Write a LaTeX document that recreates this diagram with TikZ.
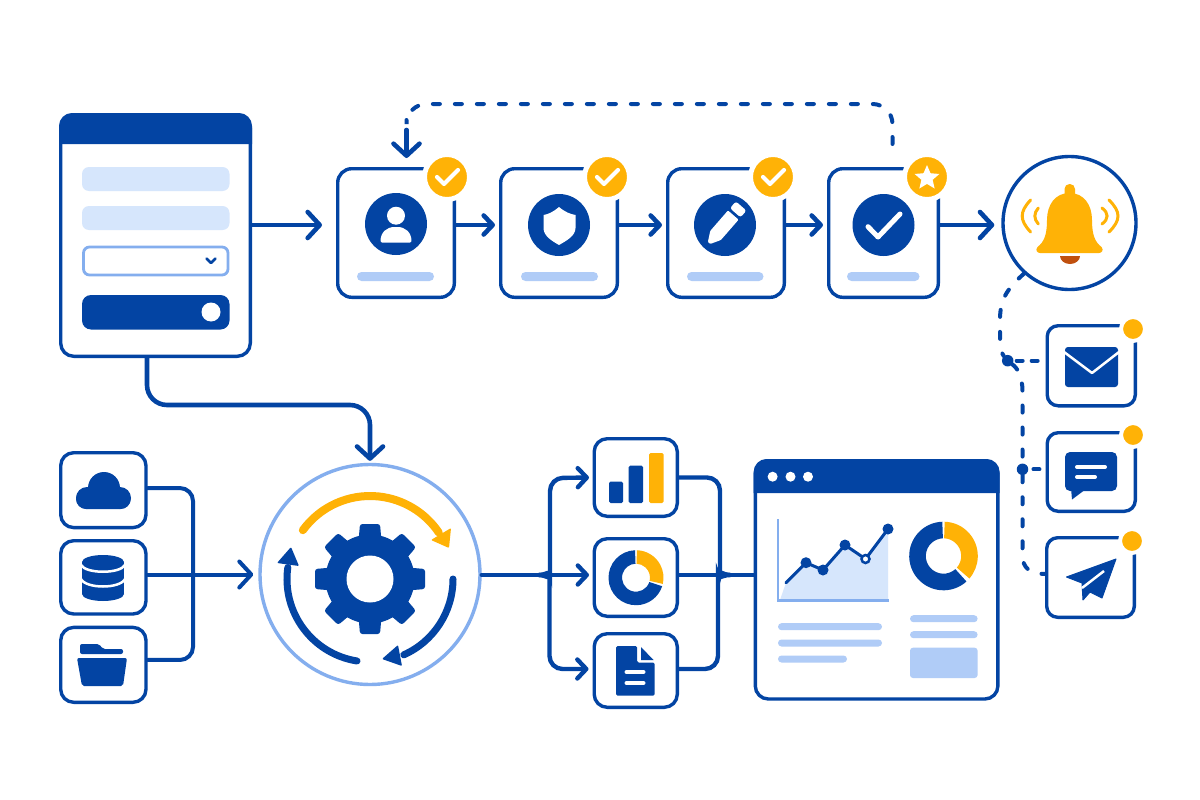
\documentclass[tikz,border=0pt]{standalone}
\usetikzlibrary{arrows.meta,calc,shapes.geometric}
\definecolor{bl}{HTML}{0344A3}
\definecolor{yel}{HTML}{FFB206}
\definecolor{pale}{HTML}{D6E6FC}
\definecolor{midb}{HTML}{B0CCF7}
\definecolor{ringb}{HTML}{84AEEE}
\definecolor{clap}{HTML}{C0500F}
\tikzset{
  cardbox/.style={draw=bl,line width=3.4pt,fill=white,rounded corners=14pt,inner sep=0pt},
  smallbox/.style={draw=bl,line width=3.4pt,fill=white,rounded corners=13pt,inner sep=0pt},
  iconcirc/.style={circle,fill=bl,inner sep=0pt,minimum size=62pt},
  badgec/.style={circle,fill=yel,draw=white,line width=5pt,inner sep=0pt,minimum size=45pt},
  notedot/.style={circle,fill=yel,draw=white,line width=4pt,inner sep=0pt,minimum size=24pt},
  hubdot/.style={circle,fill=bl,inner sep=0pt,minimum size=11.5pt},
  flowL/.style={draw=bl,line width=4.6pt,line cap=round,-{Straight Barb[length=12pt,width=26pt,round]}},
  flowS/.style={draw=bl,line width=4.6pt,line cap=round,-{Straight Barb[length=9pt,width=19pt,round]}},
  wire/.style={draw=bl,line width=4pt,line cap=round},
  dashy/.style={draw=bl,line width=4pt,line cap=round,dash pattern=on 7pt off 15pt},
  dashshort/.style={draw=bl,line width=4pt,line cap=round,dash pattern=on 6pt off 9pt},
  whitestroke/.style={draw=white,line cap=round,line join=round},
  barfill/.style={fill=midb,rounded corners=3.5pt},
  lineb/.style={draw=bl,line cap=round,line join=round},
}
\newcommand{\boxnode}[6]{\node[#2,minimum width={(#5)-(#3)-3.4},minimum height={(#6)-(#4)-3.4}] (#1) at ({((#3)+(#5))/2},{-((#4)+(#6))/2}) {};}
\newcommand{\annul}[7]{\fill[#7] ([shift={(#5:#3pt)}]#1,#2) arc[start angle=#5,end angle=#6,radius=#3pt] -- ([shift={(#6:#4pt)}]#1,#2) arc[start angle=#6,end angle=#5,radius=#4pt] -- cycle;}
\begin{document}
\begin{tikzpicture}[x=1pt,y=1pt]
\useasboundingbox (0,0) rectangle (1200,-800);
\fill[white] (0,0) rectangle (1200,-800);

% form panel
\boxnode{form}{cardbox,rounded corners=13pt}{59}{113}{252}{358}
\fill[bl] (59,-144) [rounded corners=13pt] -- (59,-113) -- (252,-113) [sharp corners] -- (252,-144) -- cycle;
\fill[pale,rounded corners=7pt] (82,-167) rectangle (229.5,-191);
\fill[pale,rounded corners=7pt] (82,-206) rectangle (229.5,-230);
\draw[ringb,line width=2.8pt,rounded corners=6pt] (83.5,-247) rectangle (228,-275);
\draw[lineb,line width=2.8pt] (206.5,-258.5) -- (211,-263) -- (215.5,-258.5);
\fill[bl,rounded corners=9pt] (82,-295) rectangle (229.5,-329.5);
\fill[white] (211,-312) circle[radius=9.5pt];

% step cards
\boxnode{s1}{cardbox}{336}{167}{456}{299}
\boxnode{s2}{cardbox}{499}{167}{619}{299}
\boxnode{s3}{cardbox}{666}{167}{786}{299}
\boxnode{s4}{cardbox}{827}{167}{940}{299}
\node[badgec] (b1) at (447,-177) {};
\node[badgec] (b2) at (607,-177) {};
\node[badgec] (b3) at (773,-177) {};
\node[badgec] (b4) at (927,-177) {};
\foreach \c in {447,607,773}{
  \draw[whitestroke,line width=4.2pt] (\c-10,-177) -- (\c-3,-184) -- (\c+11,-170);
}
\node[star,star points=5,star point ratio=2.2,fill=white,minimum size=26pt,inner sep=0pt] (b4s) at (927,-178) {};
\node[iconcirc] (i1) at (396,-224) {};
\node[iconcirc] (i2) at (559,-225) {};
\node[iconcirc] (i3) at (725,-225) {};
\node[iconcirc] (i4) at (883.5,-225) {};
\fill[midb,rounded corners=4.5pt] (357,-272) rectangle (434,-281);
\fill[midb,rounded corners=4.5pt] (521,-272) rectangle (598,-281);
\fill[midb,rounded corners=4.5pt] (687,-272) rectangle (763.5,-281);
\fill[midb,rounded corners=4.5pt] (847,-272) rectangle (919.5,-281);
% person
\fill[white] (396,-215.7) circle[radius=9pt];
\fill[white,rounded corners=1.5pt] (380.5,-242.7) .. controls (380.5,-232) and (387,-227) .. (396,-227) .. controls (405,-227) and (411.5,-232) .. (411.5,-242.7) -- cycle;
% shield
\fill[white] (559,-207) .. controls (553,-212) and (549,-214) .. (543.5,-215) -- (543.5,-228) .. controls (543.5,-236) and (552,-241) .. (559,-245) .. controls (566,-241) and (575.5,-236) .. (575.5,-228) -- (575.5,-215) .. controls (570,-214) and (565,-212) .. (559,-207) -- cycle;
% pencil
\begin{scope}[shift={(709,-243)},rotate=49]
\fill[white,rounded corners=1pt] (0,1.5) -- (10,7) -- (37,7) -- (37,-7) -- (10,-7) -- (0,-1.5) -- cycle;
\fill[white,rounded corners=2.5pt] (40,7) -- (49,7) -- (49,-7) -- (40,-7) -- cycle;
\end{scope}
% check
\draw[whitestroke,line width=5pt] (868,-226.7) -- (878,-237) -- (900,-214);

% top arrows
\coordinate (rowA) at (0,-225);
\draw[flowL,shorten >=14pt] (form.east |- rowA) -- (s1.west |- rowA);
\draw[flowS,shorten >=4pt] (s1.east |- rowA) -- (s2.west |- rowA);
\draw[flowS,shorten >=4pt] (s2.east |- rowA) -- (s3.west |- rowA);
\draw[flowS,shorten >=4pt] (s3.east |- rowA) -- (s4.west |- rowA);

% dashed feedback
\coordinate (loopStart) at (892.5,-144);
\coordinate (loopEnd) at (406.5,-120);
\coordinate (loopArrow) at (406.5,-130);
\draw[dashy,rounded corners=20pt] (loopStart) -- (892.5,-104) -- (406.5,-104) -- (loopEnd);
\draw[flowL,shorten >=9pt] (loopArrow) -- (loopArrow |- s1.north);

% bell
\node[circle,draw=bl,line width=3.4pt,fill=white,inner sep=0pt,minimum size=133pt] (bell) at (1069.5,-223) {};
\draw[flowL,shorten >=7pt] (s4.east |- rowA) -- (bell.west |- rowA);
\fill[yel,rounded corners=5pt] (1064.5,-184) rectangle (1075,-202);
\fill[yel] (1069.5,-193) .. controls (1084,-193) and (1092,-205) .. (1092,-220) .. controls (1092,-235) and (1095,-242) .. (1101.5,-247) .. controls (1104,-250) and (1102,-253) .. (1099,-253) -- (1040,-253) .. controls (1037,-253) and (1035,-250) .. (1037.5,-247) .. controls (1044,-242) and (1047,-235) .. (1047,-220) .. controls (1047,-205) and (1055,-193) .. (1069.5,-193) -- cycle;
\fill[clap] (1060,-256) arc[start angle=180,end angle=360,x radius=10pt,y radius=8pt] -- cycle;
\draw[yel,line width=3pt,line cap=round] (1030.6,-200) .. controls (1019.4,-212) and (1019.4,-220) .. (1030.6,-232);
\draw[yel,line width=3pt,line cap=round] (1038.3,-208) .. controls (1033.7,-213) and (1033.7,-219) .. (1038.3,-224);
\draw[yel,line width=3pt,line cap=round] (1109,-200) .. controls (1121,-212) and (1121,-220) .. (1109,-232);
\draw[yel,line width=3pt,line cap=round] (1102,-208) .. controls (1108.8,-213) and (1108.8,-219) .. (1102,-224);

% notification cards
\boxnode{n1}{cardbox,rounded corners=11pt}{1045.5}{324}{1137}{407.5}
\boxnode{n2}{cardbox,rounded corners=11pt}{1045.5}{431}{1137}{513}
\boxnode{n3}{cardbox,rounded corners=11pt}{1045}{536}{1136}{619}
\node[notedot] (d1n) at (1133,-329) {};
\node[notedot] (d2n) at (1133,-435) {};
\node[notedot] (d3n) at (1132,-541) {};
% envelope
\fill[bl,rounded corners=3pt] (1065,-347) rectangle (1118,-387);
\draw[whitestroke,line width=2.5pt] (1064,-352) -- (1092,-373) -- (1119,-352);
% chat
\fill[bl,rounded corners=5pt] (1065,-452) rectangle (1117,-491);
\fill[bl] (1071,-488) -- (1072,-499.5) -- (1086,-489) -- cycle;
\draw[whitestroke,line width=4pt] (1077,-467) -- (1105,-467);
\draw[whitestroke,line width=4pt] (1077,-477) -- (1095,-477);
% plane
\fill[bl,line join=round,draw=bl,line width=1pt] (1116,-559) -- (1066.5,-577) -- (1082,-583) -- (1083,-600) -- (1090,-592) -- (1102,-598) -- cycle;
\draw[white,line width=2.5pt] (1104,-571) -- (1082,-588);

% dashed notification tree
\node[hubdot] (hub1) at (1007.7,-360.7) {};
\node[hubdot] (hub2) at (1022.5,-469.3) {};
\coordinate (tail) at (0,-574);
\draw[dashy] (bell.228) .. controls (1006,-290) and (1000,-300) .. (1000,-320) -- (1000,-338) .. controls (1000,-348) and (1002,-354) .. (hub1);
\draw[dashshort,shorten <=3pt,shorten >=7pt] (hub1) -- (n1.west |- hub1);
\draw[dashy] (hub1) .. controls (1017,-368) and (1022.5,-375) .. (1022.5,-392) -- (hub2);
\draw[dashshort,shorten <=5pt,shorten >=5pt] (hub2) -- (n2.west |- hub2);
\draw[dashy] (hub2) -- (1022.5,-555) .. controls (1022.5,-568) and (1030,-574) .. (n3.west |- tail);

% source cards
\boxnode{c1}{smallbox}{59}{451}{147.7}{529.3}
\boxnode{c2}{smallbox}{59}{539}{147.7}{615.7}
\boxnode{c3}{smallbox}{59}{625.7}{147.7}{704}
% cloud
\fill[bl,rounded corners=10pt] (76,-489) rectangle (130.7,-509);
\fill[bl] (104,-488) circle[radius=16pt];
\fill[bl] (87,-498) circle[radius=11pt];
\fill[bl] (120,-498) circle[radius=11pt];
% database
\fill[bl] (82,-562) rectangle (124,-594);
\fill[bl] (103,-562) ellipse[x radius=21pt,y radius=7pt];
\fill[bl] (103,-594) ellipse[x radius=21pt,y radius=7pt];
\draw[white,line width=2.5pt] (81,-565) .. controls (86,-574) and (120,-574) .. (125,-565);
\draw[white,line width=2.5pt] (81,-579) .. controls (86,-589) and (120,-589) .. (125,-579);
% folder
\fill[bl,rounded corners=2pt] (80,-654) -- (80,-644) -- (99,-644) -- (103,-649) -- (123,-649) -- (123,-654) -- cycle;
\fill[bl,rounded corners=2pt] (77,-658) -- (127,-658) -- (123,-686) -- (82,-686) -- cycle;
% source wiring
\node[circle,draw=ringb,line width=3.4pt,fill=white,inner sep=0pt,minimum size=220pt] (proc) at (370,-574.5) {};
\draw[wire,rounded corners=13pt] ($(c1.east)+(0,2)$) -- (193,-488) -- (193,-660) -- ($(c3.east)+(0,5)$);
\draw[flowL,line width=4pt,shorten >=5pt] (c2.east |- proc.west) -- (proc.west);
% gear
\foreach \a in {0,45,...,315}{
  \fill[bl,rotate around={\a:(370,-579)},rounded corners=2.5pt] (356,-570) -- (360,-524) -- (380,-524) -- (384,-570) -- cycle;
}
\fill[bl] (370,-579) circle[radius=44.5pt];
\fill[white] (370,-579) circle[radius=23.5pt];
% cycle arcs
\draw[yel,line width=8pt,line cap=round] ([shift={(144:83pt)}]370,-579) arc[start angle=144,end angle=34,radius=83pt];
\fill[yel,rounded corners=1pt] (449,-548) -- (431,-540) -- (451,-528) -- cycle;
\draw[bl,line width=7pt,line cap=round] ([shift={(0:83pt)}]370,-579) arc[start angle=0,end angle=-66,radius=83pt];
\fill[bl,rounded corners=1pt] (382,-659) -- (398,-645) -- (402,-666) -- cycle;
\draw[bl,line width=7pt,line cap=round] ([shift={(261:83pt)}]370,-579) arc[start angle=261,end angle=172,radius=83pt];
\fill[bl,rounded corners=1pt] (291,-547) -- (277,-563) -- (299,-566) -- cycle;
% form to process
\draw[flowL,rounded corners=20pt,shorten >=2pt] ($(form.south)+(-8.5,0)$) -- (147,-405) -- (370,-405) -- (proc.north);

% data cards
\boxnode{d1}{smallbox}{592.5}{437}{679}{518}
\boxnode{d2}{smallbox}{592.5}{537}{679}{618}
\boxnode{d3}{smallbox}{592.5}{632}{679}{709}
\fill[bl,rounded corners=1.5pt] (609,-481.7) rectangle (623,-503);
\fill[bl,rounded corners=1.5pt] (628.6,-465.7) rectangle (643,-503);
\fill[yel,rounded corners=1.5pt] (649,-453) rectangle (663.5,-503);
\annul{636}{-577.7}{27.5}{14}{92}{342}{bl}
\annul{636}{-577.7}{27.5}{14}{88}{-13}{yel}
\fill[bl,rounded corners=1.5pt] (616,-646) -- (637,-646) -- (637,-662.5) -- (654.6,-662.5) -- (654.6,-695.7) -- (616,-695.7) -- cycle;
\fill[bl] (641,-647) -- (641,-660) -- (653.5,-660) -- cycle;
\draw[whitestroke,line width=4pt] (626.5,-672) -- (643.5,-672);
\draw[whitestroke,line width=4pt] (626.5,-683) -- (643.5,-683);

% dashboard
\boxnode{dash}{cardbox,rounded corners=13pt}{753.6}{459}{999.6}{700.7}
\fill[bl] (753.6,-493) [rounded corners=13pt] -- (753.6,-459) -- (999.6,-459) [sharp corners] -- (999.6,-493) -- cycle;
\fill[white] (772.6,-476.7) circle[radius=5pt];
\fill[white] (790.5,-476.7) circle[radius=5pt];
\fill[white] (808,-476.7) circle[radius=5pt];
\fill[pale] (780,-600) -- (786,-582.7) -- (806,-562.7) -- (823,-570) -- (845,-545) -- (865.5,-559) -- (888,-529) -- (888,-600) -- cycle;
\draw[ringb,line width=2.5pt] (778,-519) -- (778,-600.5) -- (889,-600.5);
\draw[lineb,line width=3pt] (786,-582.7) -- (806,-562.7) -- (823,-570) -- (845,-545) -- (865.5,-559) -- (888,-529);
\fill[bl] (806,-562.7) circle[radius=5.5pt];
\fill[bl] (823,-570) circle[radius=5.5pt];
\fill[bl] (845,-545) circle[radius=5.5pt];
\fill[bl] (888,-529) circle[radius=5.5pt];
\draw[bl,fill=white,line width=2.5pt] (865.5,-559) circle[radius=4pt];
\annul{943.5}{-556}{34.3}{17.7}{92}{312}{bl}
\annul{943.5}{-556}{34.3}{17.7}{88}{-41}{yel}
\fill[barfill] (778,-623.2) rectangle (882,-630.2);
\fill[barfill] (778,-639.5) rectangle (882,-646.5);
\fill[barfill] (778,-655.5) rectangle (847,-662.5);
\fill[barfill] (910,-615.2) rectangle (977.6,-622.2);
\fill[barfill] (910,-631.2) rectangle (977.6,-638.2);
\fill[midb,rounded corners=3pt] (910,-647.7) rectangle (977.6,-678);

% analytics wiring
\coordinate (splitL) at (539,-575);
\coordinate (splitR) at (730,-575);
\draw[wire,line width=4.4pt] (proc.east |- splitL) -- (splitL);
\draw[flowS,line width=4.4pt,shorten >=3.5pt] (splitL) -- (d2.west |- splitL);
\draw[flowS,line width=4.4pt,shorten >=3.5pt,rounded corners=13pt] (splitL) .. controls (546,-575) and (550,-570) .. (550,-562) -- (550,-478) -- (d1.west);
\draw[flowS,line width=4.4pt,shorten >=4pt,rounded corners=13pt] (splitL) .. controls (546,-575) and (549.5,-580) .. (549.5,-588) -- (549.5,-669) -- (d3.west |- 0,-669);
\draw[wire,line width=4.6pt] (d2.east |- splitL) -- (dash.west |- splitL);
\draw[wire,line width=4.4pt,rounded corners=13pt] (d1.east) -- (720,-477.5) -- (720,-562) .. controls (720,-570) and (723,-575) .. (splitR);
\draw[wire,line width=4.4pt,rounded corners=13pt] (d3.east |- 0,-669) -- (718,-669) -- (718,-588) .. controls (718,-580) and (722,-575) .. (splitR);
\end{tikzpicture}
\end{document}
